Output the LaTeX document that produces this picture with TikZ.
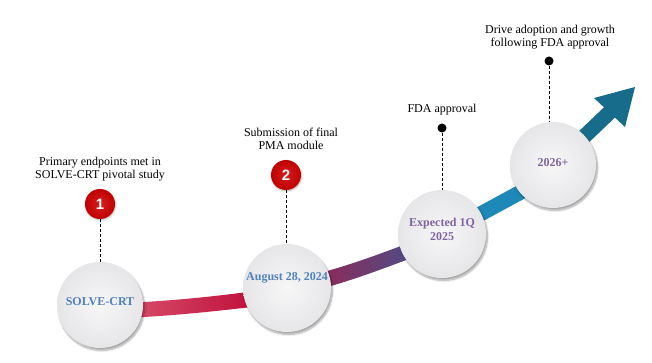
\documentclass[tikz,border=0pt]{standalone}
\usepackage{fontspec}
\setmainfont{Liberation Serif}
\newfontfamily\numfont{Liberation Sans}
\usetikzlibrary{shadows.blur,positioning}
\definecolor{ringfill}{HTML}{F1F1F3}
\definecolor{ringedge}{HTML}{E6E6E8}
\definecolor{bluetxt}{HTML}{4F81BD}
\definecolor{purptxt}{HTML}{8064A2}
\definecolor{markred}{HTML}{C00000}
\definecolor{markredlt}{HTML}{D42020}
\definecolor{segAl}{HTML}{D8506C}
\definecolor{segAr}{HTML}{C0103C}
\definecolor{segBl}{HTML}{8E2A58}
\definecolor{segBr}{HTML}{4E4C86}
\definecolor{segC}{HTML}{1E88B8}
\definecolor{arrowc}{HTML}{176B8B}
\tikzset{
  milestone/.style={circle, inner color=ringfill!60!white, outer color=ringedge, minimum size=#1, inner sep=0pt,
    blur shadow={shadow xshift=1.5pt, shadow yshift=-2.5pt, shadow blur steps=8, shadow opacity=35}},
  numbadge/.style={circle, inner color=markredlt, outer color=markred, minimum size=30pt, inner sep=0pt,
    text=white, font=\numfont\bfseries\fontsize{15}{15}\selectfont,
    blur shadow={shadow xshift=0.5pt, shadow yshift=-1pt, shadow blur steps=4, shadow opacity=30}},
  blackdot/.style={circle, fill=black, minimum size=9pt, inner sep=0pt},
  labeltxt/.style={align=center, font=\fontsize{12}{13.5}\selectfont, inner sep=0pt},
  datetxt/.style={align=center, font=\bfseries\fontsize{12}{14}\selectfont, inner sep=0pt},
  leader/.style={draw=black, line width=0.8pt, dash pattern=on 3pt off 2pt}
}
\begin{document}
\begin{tikzpicture}[x=1pt,y=-1pt]
\useasboundingbox (0,0) rectangle (652,363);
% ribbon segments
\shade[left color=segAl, right color=segAr]
  (125,303) .. controls (180,300.5) and (220,295.5) .. (252,291.5)
  -- (252,307) .. controls (220,310.5) and (180,315.5) .. (125,318) -- cycle;
\shade[left color=segBl, right color=segBr]
  (320,273) .. controls (350,265) and (380,254) .. (414,241)
  -- (414,257) .. controls (380,270) and (350,281) .. (320,289) -- cycle;
\draw[segC, line width=15pt] (462,224) -- (532,186);
\draw[arrowc, line width=15pt] (568,152) -- (612,110);
\fill[arrowc] (635,87) -- (625,127) -- (594,98) -- cycle;
% milestones
\node[milestone=86pt] (c1) at (100,305) {};
\node[milestone=88pt] (c2) at (287,288) {};
\node[milestone=88pt] (c3) at (442,234) {};
\node[milestone=86pt] (c4) at (553,165) {};
\node[datetxt, text=bluetxt] (t1) at (100,302) {SOLVE-CRT};
\node[datetxt, text=bluetxt] (t2) at (287,278) {August 28, 2024};
\node[datetxt, text=purptxt] (t3) at (442,229) {Expected 1Q\\2025};
\node[datetxt, text=purptxt] (t4) at (553,163) {2026+};
% markers
\node[numbadge] (m1) at (100,204) {1};
\node[numbadge] (m2) at (286,175) {2};
\node[blackdot] (d3) at (442,128) {};
\node[blackdot] (d4) at (549,61) {};
\draw[leader] (m1.south) -- (c1.north);
\draw[leader] (m2.south) -- (m2.south |- c2.north);
\draw[leader] (d3.south) -- (c3.north);
\draw[leader] (d4.south) -- (d4.south |- c4.north);
% labels
\node[labeltxt] (l1) at (100,169) {Primary endpoints met in\\SOLVE-CRT pivotal study};
\node[labeltxt] (l2) at (291,139) {Submission of final\\PMA module};
\node[labeltxt] (l3) at (442,110) {FDA approval};
\node[labeltxt] (l4) at (550,37) {Drive adoption and growth\\following FDA approval};
\end{tikzpicture}
\end{document}
